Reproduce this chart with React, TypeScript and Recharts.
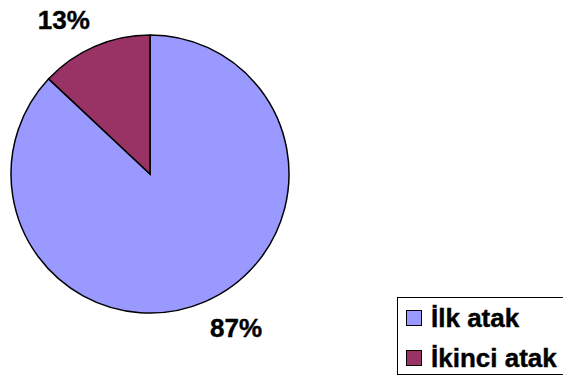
import { Cell, Legend, Pie, PieChart } from "recharts";

const categories = ["İlk atak", "İkinci atak"];
const values = [87, 13];
const colors = ["#9999FF", "#993366"];

const data = categories.map((name, i) => ({ name, value: values[i] }));

const RAD = Math.PI / 180;
const FONT = "'Liberation Sans', Arial, sans-serif";

function renderLabel(props: any) {
  const { cx, cy, midAngle, outerRadius, percent } = props;
  // excel puts the labels on a wider ellipse than the pie
  const x = cx + outerRadius * 1.56 * Math.cos(-midAngle * RAD);
  const y = cy + outerRadius * 1.21 * Math.sin(-midAngle * RAD);
  return (
    <text x={x} y={y} textAnchor="middle" dominantBaseline="central" fontFamily={FONT} fontWeight="bold" fontSize={26} fill="#000" stroke="#000" strokeWidth={0.4}>
      {Math.round(percent * 100)}%
    </text>
  );
}

function LegendBox() {
  return (
    <div style={{ border: "1.5px solid #000", width: 170, height: 78, boxSizing: "border-box", padding: "0 0 0 8px", background: "#fff" }}>
      {data.map((d, i) => (
        <div key={d.name} style={{ display: "flex", alignItems: "center", height: 40, fontFamily: FONT, fontWeight: "bold", fontSize: 26, color: "#000", WebkitTextStroke: "0.4px #000", whiteSpace: "nowrap" }}>
          <span style={{ display: "inline-block", width: 14, height: 14, background: colors[i], border: "1.5px solid #000", marginRight: 9, flexShrink: 0 }} />
          {d.name}
        </div>
      ))}
    </div>
  );
}

export default function App() {
  return (
    <div style={{ position: "absolute", left: 0, top: 0, width: 563, height: 379, background: "#fff" }}>
      <PieChart width={563} height={379} margin={{ top: 0, right: 0, bottom: 0, left: 0 }}>
        <Pie
          data={data}
          dataKey="value"
          nameKey="name"
          cx={150}
          cy={174}
          outerRadius={139}
          startAngle={90}
          endAngle={-270}
          stroke="#000"
          strokeWidth={1.5}
          label={renderLabel}
          labelLine={false}
          isAnimationActive={false}
        >
          {data.map((d, i) => (
            <Cell key={d.name} fill={colors[i]} />
          ))}
        </Pie>
        <Legend content={<LegendBox />} wrapperStyle={{ position: "absolute", left: 397, top: 297, width: 170 }} />
      </PieChart>
    </div>
  );
}
